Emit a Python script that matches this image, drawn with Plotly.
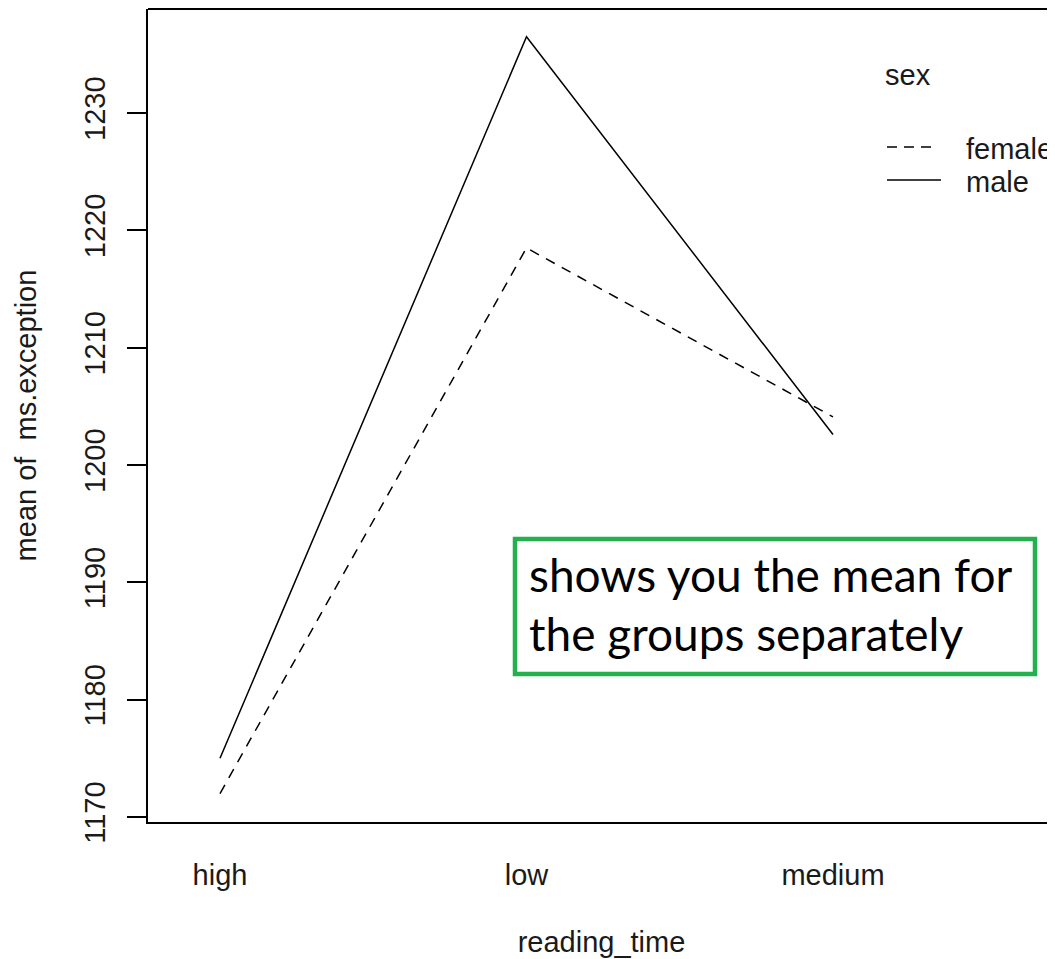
import plotly.graph_objects as go

# Data
reading_time = ["high", "low", "medium"]
female_means = [1172.0, 1218.5, 1204.1]
male_means = [1175.0, 1236.5, 1202.6]
y_ticks = [1170, 1180, 1190, 1200, 1210, 1220, 1230]
legend_title = "sex"
legend_labels = ["female", "male"]
note_lines = ["shows you the mean for", "the groups separately"]

OFF = 8  # page body margin
W, H = 1055 - OFF, 959 - OFF
L, R, T, B = 148 - OFF, 0, 1, 137
pw = W - L - R
ph = H - T - B

xpos = list(range(1, len(reading_time) + 1))
FONT = "Liberation Sans, Arial, sans-serif"
TXT = "#1a1a1a"
FS = 29

fig = go.Figure()
fig.add_trace(go.Scatter(x=xpos, y=female_means, mode="lines",
                         line=dict(color="black", width=1.5, dash="10px,8px"),
                         name="female", showlegend=False, hoverinfo="skip"))
fig.add_trace(go.Scatter(x=xpos, y=male_means, mode="lines",
                         line=dict(color="black", width=1.5),
                         name="male", showlegend=False, hoverinfo="skip"))

# convert reference-window pixel positions to paper coords
def px2x(px):
    return (px - OFF - L) / pw

def py2y(py):
    return (H - B - (py - OFF)) / ph

shapes = []
shapes.append(dict(type="line", xref="paper", yref="paper", x0=0, x1=1.01,
                   y0=1, y1=1, line=dict(color="black", width=2)))
shapes.append(dict(type="line", xref="paper", yref="paper",
                   x0=px2x(887), x1=px2x(938), y0=py2y(147), y1=py2y(147),
                   line=dict(color="black", width=1.5, dash="10px,7px")))
shapes.append(dict(type="line", xref="paper", yref="paper",
                   x0=px2x(887), x1=px2x(941), y0=py2y(180), y1=py2y(180),
                   line=dict(color="black", width=1.5)))
shapes.append(dict(type="rect", xref="paper", yref="paper",
                   x0=px2x(515), x1=px2x(1035), y0=py2y(674), y1=py2y(539),
                   line=dict(color="#22B14C", width=4.5), fillcolor="white"))

annotations = [
    dict(text=legend_title, xref="paper", yref="paper", x=px2x(883), y=py2y(75),
         xanchor="left", yanchor="middle", showarrow=False,
         font=dict(family=FONT, size=FS, color=TXT)),
    dict(text=legend_labels[0], xref="paper", yref="paper", x=px2x(964), y=py2y(149),
         xanchor="left", yanchor="middle", showarrow=False,
         font=dict(family=FONT, size=FS, color=TXT)),
    dict(text=legend_labels[1], xref="paper", yref="paper", x=px2x(964), y=py2y(182),
         xanchor="left", yanchor="middle", showarrow=False,
         font=dict(family=FONT, size=FS, color=TXT)),
    dict(text=note_lines[0], xref="paper", yref="paper", x=px2x(527), y=py2y(574),
         xanchor="left", yanchor="middle", showarrow=False,
         font=dict(family="Lato, Carlito, sans-serif", size=46, color="black")),
    dict(text=note_lines[1], xref="paper", yref="paper", x=px2x(527), y=py2y(633),
         xanchor="left", yanchor="middle", showarrow=False,
         font=dict(family="Lato, Carlito, sans-serif", size=46, color="black")),
]

x_lo = 1 - (220 - 148) / 306.5
x_hi = x_lo + pw / 306.5
y_scale = (817 - 113) / 60.0
y_lo = 1170 - (822 - 817) / y_scale
y_hi = y_lo + ph / y_scale

fig.update_layout(
    width=W, height=H,
    margin=dict(l=L, r=R, t=T, b=B, pad=0),
    plot_bgcolor="white", paper_bgcolor="white",
    showlegend=False,
    font=dict(family=FONT, size=FS, color=TXT),
    xaxis=dict(range=[x_lo, x_hi], tickmode="array", tickvals=xpos,
               ticktext=reading_time, showgrid=False, zeroline=False,
               showline=True, linecolor="black", linewidth=2,
               ticks="", ticklabelstandoff=26,
               tickfont=dict(family=FONT, size=FS, color=TXT),
               title=dict(text="reading_time", standoff=42,
                          font=dict(family=FONT, size=FS, color=TXT))),
    yaxis=dict(range=[y_lo, y_hi], tickmode="array", tickvals=y_ticks,
               showgrid=False, zeroline=False,
               showline=True, linecolor="black", linewidth=2,
               ticks="outside", ticklen=19, tickwidth=2, tickcolor="black",
               tickangle=-90, ticklabelstandoff=10,
               tickfont=dict(family=FONT, size=FS, color=TXT),
               title=dict(text="mean of  ms.exception", standoff=34,
                          font=dict(family=FONT, size=FS, color=TXT))),
    shapes=shapes,
    annotations=annotations,
)

fig.write_html("out.html")
